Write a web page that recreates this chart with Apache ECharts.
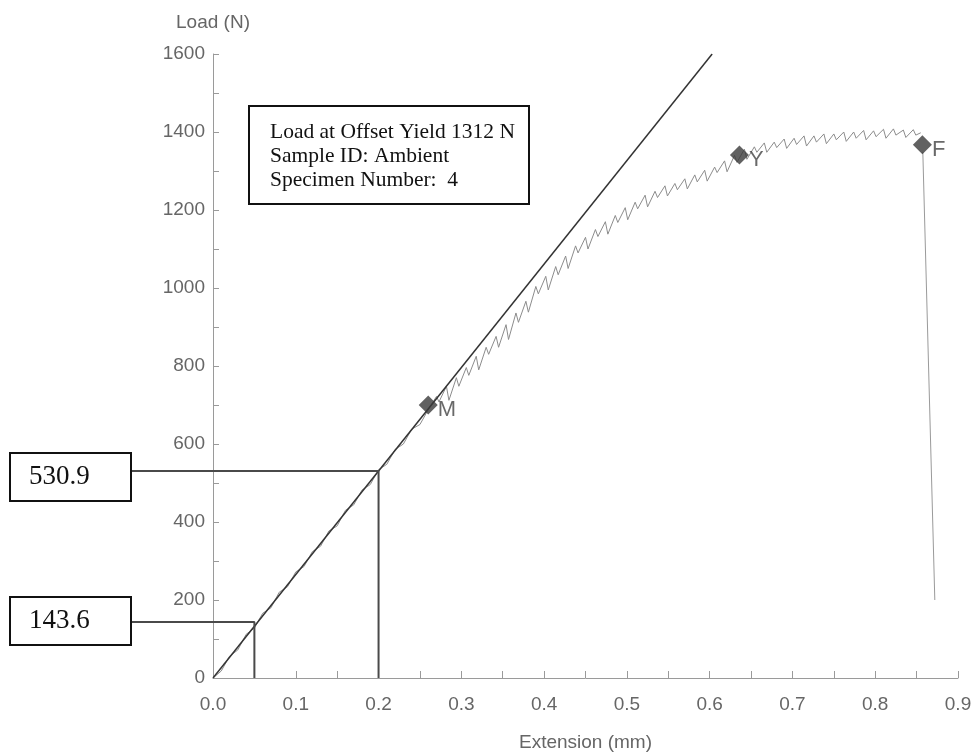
<!DOCTYPE html>
<html>
<head>
<meta charset="utf-8">
<script src="https://cdn.jsdelivr.net/npm/echarts@6/dist/echarts.min.js"></script>
<style>html,body{margin:0;padding:0;background:#fff}#c{width:977px;height:754px}</style>
</head>
<body>
<div id="c"></div>
<script>
// ---- data ----
const extension = [0,0.01,0.02,0.03,0.04,0.05,0.06,0.07,0.08,0.09,0.10,0.11,0.12,0.13,0.14,0.15,0.16,0.17,0.18,0.19,0.20,0.21,0.22,0.23,0.24,0.25,0.26,
0.270,0.273,0.282,0.285,0.294,0.297,0.306,0.309,0.318,0.321,0.330,0.333,0.342,0.345,0.354,0.357,0.366,0.369,0.378,0.381,
0.390,0.393,0.402,0.405,0.414,0.417,0.426,0.429,0.438,0.441,0.450,0.453,0.462,0.465,0.474,0.477,0.486,0.489,0.498,0.501,
0.510,0.513,0.522,0.525,0.534,0.537,0.546,0.549,0.558,0.561,0.570,0.573,0.582,0.585,0.594,0.597,0.606,0.609,0.618,0.621,
0.630,0.633,0.642,0.645,0.654,0.657,0.666,0.669,0.678,0.681,0.690,0.693,0.702,0.705,0.714,0.717,0.726,0.729,0.738,0.741,
0.750,0.753,0.762,0.765,0.774,0.777,0.786,0.789,0.798,0.801,0.810,0.813,0.822,0.825,0.834,0.837,0.846,0.849,0.855];
const load = [0,18,56,72,112,128,166,180,220,234,272,286,324,338,377,390,430,444,482,496,534,548,586,600,638,650,688,
722,708,748,712,770,748,796,776,825,790,848,830,876,848,906,868,936,912,966,938,
1004,985,1030,995,1055,1034,1082,1050,1108,1090,1130,1100,1150,1132,1170,1138,1186,1168,1206,1175,
1220,1203,1238,1208,1248,1232,1262,1236,1268,1252,1280,1254,1290,1272,1302,1274,1310,1296,1326,1298,
1340,1322,1356,1330,1362,1348,1372,1348,1374,1360,1382,1358,1384,1368,1390,1364,1390,1374,1395,1370,
1395,1380,1400,1376,1400,1384,1404,1380,1403,1388,1407,1384,1408,1392,1405,1386,1406,1392,1398];
const fitX = [0, 0.603];
const fitY = [0, 1600];
const dropX = [0.8575, 0.872];
const dropY = [1349, 200];
const markerNames = ['M','Y','F'];
const markerX = [0.26, 0.636, 0.857];
const markerY = [700, 1341, 1367];
const refLabels = ['530.9','143.6'];
const refX = [0.2, 0.05];
const refY = [530.9, 143.6];
const infoLines = ['Load at Offset Yield 1312 N','Sample ID: Ambient','Specimen Number:  4'];
const xTicks = [0,0.1,0.2,0.3,0.4,0.5,0.6,0.7,0.8,0.9];
const yTicks = [0,200,400,600,800,1000,1200,1400,1600];

// ---- chart ----
const chart = echarts.init(document.getElementById('c'));
const axisGray = '#9a9a9a';
const labelGray = '#666';
const font = 'Liberation Sans, Arial, sans-serif';
const serif = 'Liberation Serif, Times New Roman, serif';

const series = [
  {
    type: 'line', name: 'curve', showSymbol: false, silent: true,
    data: extension.map((x, i) => [x, load[i]]),
    lineStyle: { color: '#8c8c8c', width: 1 }, z: 2
  },
  {
    type: 'line', name: 'fit', showSymbol: false, silent: true,
    data: fitX.map((x, i) => [x, fitY[i]]),
    lineStyle: { color: '#333', width: 1.5 }, z: 3
  },
  {
    type: 'line', name: 'drop', showSymbol: false, silent: true,
    data: dropX.map((x, i) => [x, dropY[i]]),
    lineStyle: { color: '#9a9a9a', width: 1 }, z: 2
  },
  {
    type: 'scatter', name: 'markers', symbol: 'diamond', symbolSize: 19,
    data: markerX.map((x, i) => ({ value: [x, markerY[i]], name: markerNames[i] })),
    itemStyle: { color: '#3a3a3a' },
    label: { show: true, position: 'right', distance: 0, offset: [0, 5], formatter: p => p.name,
      color: '#444', fontSize: 22, fontFamily: font },
    z: 5
  }
];
refX.forEach((rx, i) => {
  series.push({
    type: 'line', showSymbol: false, silent: true,
    data: [[0, refY[i]], [rx, refY[i]], [rx, 0]],
    lineStyle: { color: '#4a4a4a', width: 2 }, z: 4
  });
});

chart.setOption({
  backgroundColor: '#fff',
  animation: false,
  grid: { left: 213, right: 19, top: 54, bottom: 76, containLabel: false, outerBoundsMode: 'none' },
  xAxis: {
    type: 'value', min: 0, max: 0.9, interval: 0.1,
    name: 'Extension (mm)', nameLocation: 'middle', nameGap: 55,
    nameTextStyle: { color: labelGray, fontSize: 19, fontFamily: font },
    axisLine: { show: true, lineStyle: { color: axisGray, width: 1 } },
    axisTick: { show: true, inside: true, length: 7, lineStyle: { color: axisGray } },
    minorTick: { show: true, splitNumber: 2, length: 7, lineStyle: { color: axisGray } },
    axisLabel: { color: labelGray, fontSize: 19, fontFamily: font, margin: 17,
      formatter: v => xTicks.indexOf(Math.round(v * 10) / 10) >= 0 ? (Math.round(v * 10) / 10).toFixed(1) : '' },
    splitLine: { show: false }
  },
  yAxis: {
    type: 'value', min: 0, max: 1600, interval: 200,
    name: 'Load (N)', nameLocation: 'end', nameGap: 22,
    nameTextStyle: { color: labelGray, fontSize: 19, fontFamily: font, align: 'center' },
    axisLine: { show: true, lineStyle: { color: axisGray, width: 1 } },
    axisTick: { show: true, inside: true, length: 6, lineStyle: { color: axisGray } },
    minorTick: { show: true, splitNumber: 2, length: 6, lineStyle: { color: axisGray } },
    axisLabel: { color: labelGray, fontSize: 19, fontFamily: font, margin: 8,
      formatter: v => yTicks.indexOf(v) >= 0 ? String(v) : '' },
    splitLine: { show: false }
  },
  series: series
});

// annotation boxes and the leader-line parts left of the y axis
const boxTops = [452, 596];
const graphics = [
  { type: 'rect', left: 248, top: 105, shape: { width: 280, height: 98 },
    style: { fill: '#fff', stroke: '#111', lineWidth: 2 }, z: 10 },
  { type: 'text', left: 270, top: 120, z: 11,
    style: { text: infoLines.join('\n'), font: '21.5px ' + serif, fill: '#111', lineHeight: 24 } }
];
refLabels.forEach((lab, i) => {
  const p = chart.convertToPixel({ gridIndex: 0 }, [0, refY[i]]);
  graphics.push({ type: 'line', shape: { x1: 130, y1: p[1], x2: p[0], y2: p[1] },
    style: { stroke: '#4a4a4a', lineWidth: 2 }, z: 9 });
  graphics.push({ type: 'rect', left: 9, top: boxTops[i], shape: { width: 121, height: 48 },
    style: { fill: '#fff', stroke: '#111', lineWidth: 2 }, z: 10 });
  graphics.push({ type: 'text', left: 29, top: boxTops[i] + 11, z: 11,
    style: { text: lab, font: '27px ' + serif, fill: '#111' } });
});
chart.setOption({ graphic: graphics });
</script>
</body>
</html>
